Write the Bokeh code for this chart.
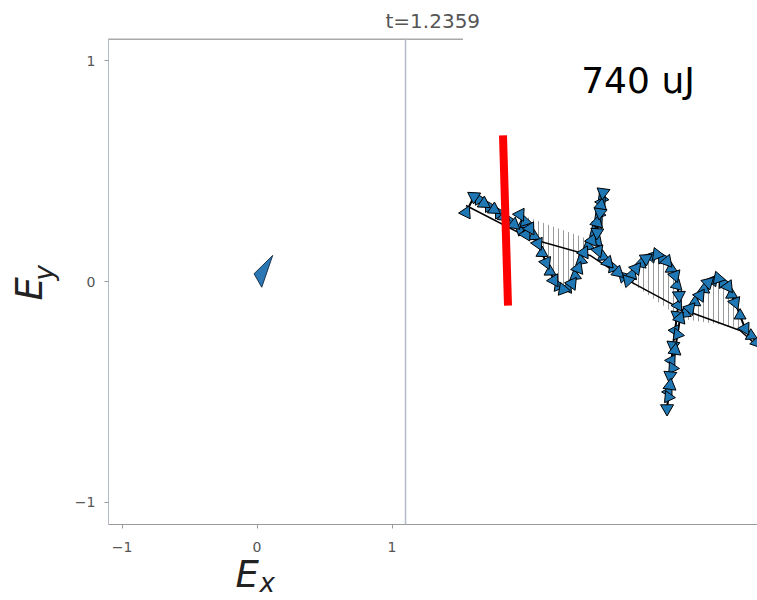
import numpy as np
from bokeh.plotting import figure
from bokeh.models import Label, Span, FixedTicker, Title
from bokeh.embed import file_html
from bokeh.resources import INLINE

# ---- data ----
x_ticks = [-1, 0, 1]
y_ticks = [-1, 0, 1]
tick_labels = {-1: "\u22121", 0: "0", 1: "1"}

title_text = "t=1.2359"
energy_text = "740 uJ"

# single field vector shown in the left panel (triangle vertices)
arrow_x = [0.116, -0.022, 0.035]
arrow_y = [0.118, 0.035, -0.026]

# trajectory of field arrows (right panel)
path_x = [1.548, 1.607, 1.681, 1.756, 1.830, 1.904, 1.993, 1.948, 2.022, 2.081,
          2.141, 2.200, 2.267, 2.333, 2.378, 2.422, 2.481, 2.519, 2.548, 2.563,
          2.541, 2.519, 2.526, 2.600, 2.674, 2.748, 2.807, 2.881, 2.963, 3.037,
          3.096, 3.126, 3.111, 3.081, 3.059, 3.037, 3.059, 3.096, 3.133, 3.207,
          3.281, 3.341, 3.415, 3.489, 3.541, 3.615, 3.704]
path_y = [0.312, 0.385, 0.353, 0.326, 0.294, 0.258, 0.213, 0.303, 0.240, 0.172,
          0.086, 0.005, -0.036, -0.009, 0.059, 0.131, 0.186, 0.267, 0.344, 0.403,
          0.312, 0.222, 0.140, 0.086, 0.041, 0.005, 0.059, 0.104, 0.122, 0.091,
          0.027, -0.063, -0.154, -0.290, -0.426, -0.575, -0.471, -0.312, -0.167, -0.122,
          -0.063, -0.005, 0.014, -0.023, -0.095, -0.213, -0.276]

# further arrows read between the ones above
more_x = [1.644, 1.718, 1.793, 1.867, 1.948, 1.970, 1.985, 2.052, 2.111, 2.170,
          2.233, 2.300, 2.356, 2.400, 2.452, 2.500, 2.534, 2.556, 2.552, 2.530,
          2.522, 2.563, 2.637, 2.711, 2.778, 2.844, 2.922, 3.000, 3.067, 3.111,
          3.118, 3.096, 3.070, 3.048, 3.048, 3.078, 3.115, 3.170, 3.244, 3.311,
          3.378, 3.452, 3.515, 3.578, 3.660]
more_y = [0.372, 0.340, 0.310, 0.276, 0.236, 0.260, 0.272, 0.206, 0.129, 0.045,
          -0.020, -0.028, 0.025, 0.095, 0.160, 0.226, 0.305, 0.374, 0.358, 0.267,
          0.181, 0.113, 0.063, 0.023, 0.032, 0.082, 0.113, 0.107, 0.059, -0.018,
          -0.108, -0.222, -0.358, -0.500, -0.523, -0.392, -0.240, -0.145, -0.093, -0.034,
          0.005, -0.005, -0.059, -0.154, -0.245]

# baseline trend through the loops
base_x = [1.548, 2.022, 2.467, 2.748, 3.133, 3.578, 3.704]
base_y = [0.344, 0.195, 0.118, 0.005, -0.122, -0.222, -0.290]

# red marker line
red_x = [1.822, 1.859]
red_y = [0.661, -0.109]

# ---- figure ----
p = figure(width=757, height=600, x_range=(-1.1, 3.707), y_range=(-1.1, 1.1),
           output_backend="svg", toolbar_location=None,
           min_border_left=108, min_border_right=0, min_border_top=38,
           min_border_bottom=76)
p.outline_line_color = None
p.grid.visible = False
p.background_fill_color = "white"
p.border_fill_color = "white"

for ax, ticks in ((p.xaxis, x_ticks), (p.yaxis, y_ticks)):
    ax.ticker = FixedTicker(ticks=ticks)
    ax.major_label_overrides = tick_labels
    ax.minor_tick_line_color = None
    ax.major_tick_in = 0
    ax.major_tick_out = 4
    ax.major_label_text_font = "DejaVu Sans"
    ax.major_label_text_font_size = "14px"
    ax.major_label_text_color = "#555555"
    ax.major_tick_line_color = "#9a9a9a"
p.xaxis.axis_line_color = "#9a9a9a"
p.yaxis.axis_line_color = "#b4bcc8"
p.xaxis.major_label_standoff = 13
p.yaxis.major_label_standoff = 9

# title above
p.title = Title(text=title_text, align="left", offset=277, vertical_align="bottom",
                standoff=12, text_font="DejaVu Sans", text_font_size="20px",
                text_font_style="normal", text_color="#555555")

# axis labels E_x and E_y built from two texts each
lab = dict(text_font="DejaVu Sans", text_font_style="italic", text_color="#222222")
p.add_layout(Title(text="E", align="left", offset=127, vertical_align="bottom",
                   standoff=-83, text_font_size="37px", **lab), "below")
p.add_layout(Title(text="x", align="left", offset=151, vertical_align="bottom",
                   standoff=-86, text_font_size="26px", **lab), "below")
p.add_layout(Title(text="y", align="left", offset=244, vertical_align="top",
                   standoff=-85, text_font_size="26px", **lab), "left")
p.add_layout(Title(text="E", align="left", offset=224, vertical_align="top",
                   standoff=-128, text_font_size="37px", **lab), "left")

# right spine of the left panel and top spine piece
p.add_layout(Span(location=1.1, dimension="height", line_color="#b4bcc8", line_width=1.5))
p.line([-1.1, 1.526], [1.1, 1.1], line_color="#a8a8a8", line_width=3)

# small field arrow in left panel
p.patch(arrow_x, arrow_y, fill_color="#2a77b4", line_color="#1a3550", line_width=1)

# hatched loop interiors
loops = [(7, 16), (25, 32), (38, 45)]
for a, b in loops:
    p.patch(path_x[a:b + 1], path_y[a:b + 1], fill_color="white", line_color=None,
            hatch_pattern="|", hatch_color="#9a9a9a", hatch_scale=5, hatch_weight=1)

p.line(base_x, base_y, line_color="black", line_width=1.5)
p.line(path_x, path_y, line_color="black", line_width=2)


def headings(xs, ys):
    xs = np.asarray(xs)
    ys = np.asarray(ys)
    dx = np.gradient(xs) * 135.0
    dy = np.gradient(ys) * 220.9
    return np.arctan2(dy, dx) - np.pi / 2


p.scatter(more_x, more_y, marker="triangle", size=12, angle=headings(more_x, more_y) + 0.6,
          fill_color="#1f77b4", line_color="black", line_width=1)
p.scatter(path_x, path_y, marker="triangle", size=13, angle=headings(path_x, path_y),
          fill_color="#1f77b4", line_color="black", line_width=1)

p.line(red_x, red_y, line_color="#ff0000", line_width=8)

p.add_layout(Label(x=2.822, y=0.91, text=energy_text, text_align="center",
                   text_baseline="middle", text_font="DejaVu Sans",
                   text_font_size="36px", text_color="black"))

open("out.html", "w").write(file_html(p, INLINE))
